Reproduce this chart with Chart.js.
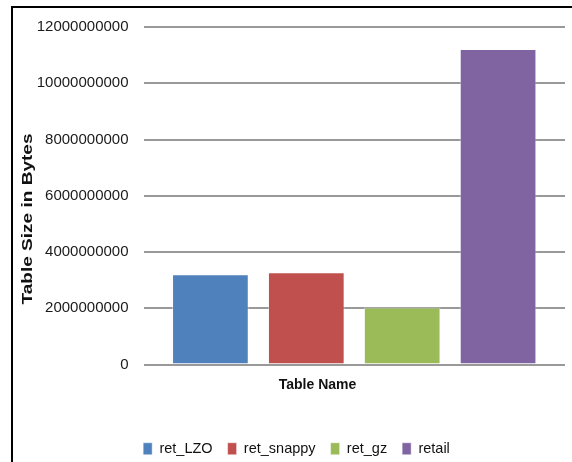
<!DOCTYPE html>
<html>
<head>
<meta charset="utf-8">
<script src="https://cdn.jsdelivr.net/npm/chart.js@4.4.0/dist/chart.umd.min.js"></script>
<style>
  html, body { margin: 0; padding: 0; background: #fff; }
  #wrap { position: relative; width: 572px; height: 462px; overflow: hidden; }
  #frame {
    position: absolute; left: 11px; top: 6px; right: -4px; bottom: -4px;
    border-left: 2px solid #000; border-top: 2px solid #000;
  }
  #chartSizes { position: absolute; left: 0; top: 0; }
</style>
</head>
<body>
<div id="wrap">
  <div id="frame"></div>
  <canvas id="chartSizes" width="572" height="462"></canvas>
</div>
<script>
// Tamaño de cada tabla según el formato de compresión
const seriesNames  = ['ret_LZO', 'ret_snappy', 'ret_gz', 'retail'];
const tableSizes   = [3210000000, 3280000000, 2030000000, 11220000000];
const seriesColors = ['#4f81bd', '#c0504d', '#9bbb59', '#8064a2'];
const categories   = [''];
const yTitle = 'Table Size in Bytes';
const xTitle = 'Table Name';

const FONT = '"Liberation Sans", Arial, sans-serif';

// títulos de ejes dibujados a mano (Excel no los centra sobre el área)
const axisTitles = {
  id: 'axisTitles',
  afterLayout(chart) {
    // leyenda un poco desplazada a la derecha
    chart.legend.left  += 14;
    chart.legend.right += 14;
  },
  afterDraw(chart) {
    const { ctx, chartArea } = chart;
    ctx.save();
    ctx.fillStyle = '#111';
    ctx.textAlign = 'center';
    ctx.textBaseline = 'middle';

    ctx.font = 'bold 14px ' + FONT;
    ctx.fillText(xTitle, chartArea.left + 174, chartArea.bottom + 21);

    // el título vertical va algo estirado a lo largo
    ctx.translate(28, chartArea.top + 192);
    ctx.rotate(-Math.PI / 2);
    ctx.scale(1.36, 1);
    ctx.font = 'bold 14px ' + FONT;
    ctx.fillText(yTitle, 0, 0);
    ctx.restore();
  },
};

new Chart(document.getElementById('chartSizes'), {
  type: 'bar',
  data: {
    labels: categories,
    datasets: seriesNames.map((name, i) => ({
      label:           name,
      data:            [tableSizes[i]],
      backgroundColor: seriesColors[i],
      borderColor:     'rgba(255,255,255,0.45)',
      borderWidth:     1,
      categoryPercentage: 0.91,
      barPercentage:      0.8,
    })),
  },
  options: {
    responsive: false,
    animation:  false,
    layout: { padding: { top: 27, right: 7, bottom: -4, left: 0 } },
    plugins: {
      legend: {
        position: 'bottom',
        labels: {
          boxWidth:  9,
          boxHeight: 12,
          padding:   15,
          color:     '#111',
          font:      { family: FONT, size: 14.5 },
        },
      },
      tooltip: { enabled: false },
    },
    scales: {
      x: {
        ticks:  { display: false },
        grid:   { display: false },
        border: { display: false },
        afterFit: s => { s.height = 62; },
      },
      y: {
        min: 0,
        max: 12000000000,
        ticks: {
          stepSize: 2000000000,
          padding:  15,
          color:    '#1a1a1a',
          font:     { family: FONT, size: 15 },
          callback: v => String(v),
        },
        grid:   { color: '#999', lineWidth: 2, drawTicks: false },
        border: { display: false },
        afterFit: s => { s.width = 143.5; },
      },
    },
  },
  plugins: [axisTitles],
});
</script>
</body>
</html>
